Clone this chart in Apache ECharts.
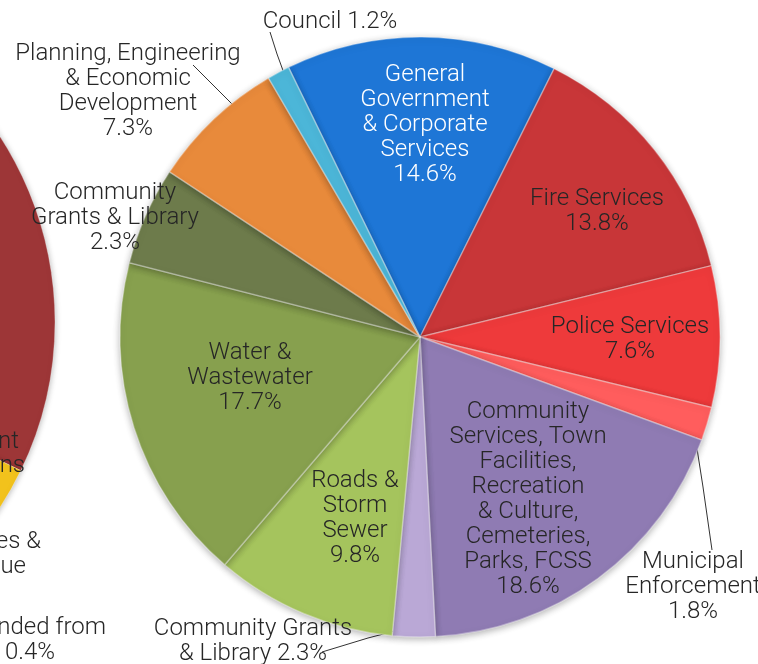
<!DOCTYPE html>
<html>
<head>
<meta charset="utf-8">
<script src="https://cdn.jsdelivr.net/npm/echarts@6/dist/echarts.min.js"></script>
<style>
  html, body { margin: 0; padding: 0; background: #fff; }
  #main { width: 758px; height: 664px; }
</style>
</head>
<body>
<div id="main"></div>
<script>
// 各项名称（按顺时针顺序，从蓝色开始）
var categories = [
  'General\nGovernment\n& Corporate\nServices',
  'Fire Services',
  'Police Services',
  'Municipal\nEnforcement',
  'Community\nServices, Town\nFacilities,\nRecreation\n& Culture,\nCemeteries,\nParks, FCSS',
  'Community Grants\n& Library',
  'Roads &\nStorm\nSewer',
  'Water &\nWastewater',
  'Community\nGrants & Library',
  'Planning, Engineering\n& Economic\nDevelopment',
  'Council'
];
// 扇区大小
var values = [14.6, 13.8, 7.6, 1.8, 18.6, 2.3, 9.8, 17.7, 5.3, 7.3, 1.2];
// 标签上显示的百分比
var pctLabels = ['14.6%', '13.8%', '7.6%', '1.8%', '18.6%', '2.3%', '9.8%', '17.7%', '2.3%', '7.3%', '1.2%'];
var colors = ['#1e76d6', '#c83638', '#ee3a3b', '#ff5d5d', '#8f7bb3', '#baa8d6',
  '#a5c45d', '#87a04e', '#6d7b4b', '#e88a3b', '#4cb6d8'];

// 左侧被裁切的饼图
var leftValues = [32.2, 4.0, 63.8];
var leftColors = ['#9d3637', '#f2c21c', '#cccccc'];
// 左侧饼图标签（只露出一部分）
var leftFragments = ['nt', 'ns', 'es &', 'ue', 'nded from', '0.4%'];

// 标签位置
var labelSpots = {
  0: { x: 425, y: 125 },
  1: { x: 597, y: 211 },
  2: { x: 630, y: 339 },
  3: { x: 693, y: 587, line: [[693, 423], [703, 487], [712, 550]] },
  4: { x: 528, y: 499 },
  5: { x: 253, y: 641, line: [[418, 625], [368, 638], [322, 652]] },
  6: { x: 355, y: 518 },
  7: { x: 250, y: 378 },
  8: { x: 115, y: 218 },
  9: { x: 128, y: 91, line: [[250, 122], [221, 93], [193, 65]] },
  10: { x: 330, y: 22, line: [[285, 76], [277, 54], [270, 32]] }
};
var outside = [3, 5, 9, 10];
var singleLine = [5, 10];
var fragSpots = [
  { x: 19, y: 442, align: 'right' },
  { x: 25, y: 466, align: 'right' },
  { x: 41, y: 542, align: 'right' },
  { x: 26, y: 567, align: 'right' },
  { x: 106, y: 628, align: 'right' },
  { x: 5, y: 653, align: 'left' }
];

var FONT = 'Roboto';
var FSIZE = 24;

var pieData = values.map(function (v, i) {
  var item = {
    name: categories[i],
    value: v,
    itemStyle: { color: colors[i] }
  };
  if (outside.indexOf(i) >= 0) {
    item.label = { position: 'outside' };
    item.labelLine = { show: true };
  }
  if (i === 0) {
    item.label = { color: '#ffffff' };
  }
  return item;
});

var chart = echarts.init(document.getElementById('main'), null, { renderer: 'canvas' });

var option = {
  animation: false,
  backgroundColor: '#ffffff',
  series: [
    {
      // 左侧饼图（大部分在画面外）
      type: 'pie',
      center: [-285, 322],
      radius: 340,
      startAngle: 90,
      silent: true,
      z: 1,
      label: { show: false },
      labelLine: { show: false },
      itemStyle: {
        borderColor: 'rgba(255,255,255,0.3)',
        borderWidth: 1,
        shadowBlur: 6,
        shadowColor: 'rgba(0,0,0,0.3)',
        shadowOffsetY: 1
      },
      data: leftValues.map(function (v, i) {
        return { value: v, itemStyle: { color: leftColors[i] } };
      })
    },
    {
      type: 'pie',
      center: [420, 337],
      radius: 300,
      startAngle: 116,
      avoidLabelOverlap: false,
      silent: true,
      itemStyle: {
        borderColor: 'rgba(255,255,255,0.35)',
        borderWidth: 1.5,
        shadowBlur: 7,
        shadowColor: 'rgba(0,0,0,0.3)',
        shadowOffsetY: 2
      },
      label: {
        show: true,
        position: 'inside',
        fontFamily: FONT,
        fontWeight: 300,
        fontSize: FSIZE,
        lineHeight: 25,
        color: '#262626',
        align: 'center',
        formatter: function (p) {
          var sep = singleLine.indexOf(p.dataIndex) >= 0 ? ' ' : '\n';
          return p.name + sep + pctLabels[p.dataIndex];
        }
      },
      labelLine: {
        show: false,
        lineStyle: { color: '#333333', width: 1 }
      },
      labelLayout: function (params) {
        var s = labelSpots[params.dataIndex];
        var out = {
          x: s.x,
          y: s.y,
          align: 'center',
          verticalAlign: 'middle'
        };
        if (s.line) out.labelLinePoints = s.line;
        return out;
      },
      data: pieData
    }
  ],
  graphic: leftFragments.map(function (t, i) {
    return {
      type: 'text',
      z: 100,
      x: fragSpots[i].x,
      y: fragSpots[i].y,
      style: {
        text: t,
        align: fragSpots[i].align,
        verticalAlign: 'middle',
        font: '300 ' + FSIZE + 'px ' + FONT,
        fill: '#262626'
      }
    };
  })
};

chart.setOption(option);
</script>
</body>
</html>
